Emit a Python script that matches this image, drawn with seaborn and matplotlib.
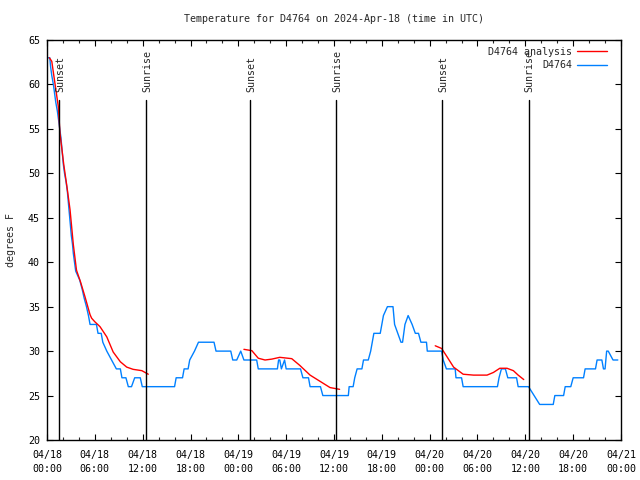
import matplotlib
matplotlib.use("Agg")
import matplotlib.pyplot as plt
import seaborn as sns
import pandas as pd
from matplotlib.lines import Line2D
from matplotlib.ticker import MultipleLocator

# ---------------- data (hours since 04/18 00:00 UTC) ----------------
obs_hours = [0.15, 0.35, 0.45, 0.6, 0.8, 0.95, 1.1, 1.3, 1.45, 1.6, 1.75, 1.85, 1.95, 2.05,
             2.2, 2.4, 2.55, 2.65, 2.75, 2.85, 2.95, 3.05, 3.2, 3.3, 3.45, 3.6, 4.1, 4.4,
             4.65, 4.95, 5.2, 5.4, 6.2, 6.4, 6.8, 7.0, 7.5, 8.1, 8.7, 9.2, 9.4, 9.9,
             10.2, 10.6, 11.0, 11.7, 11.95, 16.0, 16.2, 17.0, 17.2, 17.7, 17.9, 18.5,
             19.0, 20.95, 21.2, 23.05, 23.3, 23.8, 24.3, 24.7, 26.3, 26.5, 28.9, 29.05,
             29.2, 29.4, 29.8, 30.0, 31.8, 32.1, 32.8, 33.0, 34.3, 34.6, 37.8, 37.9,
             38.4, 38.6, 38.9, 39.5, 39.7, 40.3, 40.6, 40.8, 41.0, 41.8, 42.0, 42.2,
             42.7, 43.4, 43.6, 44.0, 44.4, 44.6, 44.9, 45.3, 45.8, 46.2, 46.6, 46.9,
             47.6, 47.7, 49.5, 49.7, 50.1, 51.2, 51.3, 52.0, 52.2, 56.5, 56.7, 57.0,
             57.5, 57.8, 58.9, 59.1, 60.4, 61.8, 63.5, 63.7, 64.8, 65.0, 65.7, 66.0,
             67.3, 67.5, 68.8, 69.0, 69.6, 69.8, 70.0, 70.2, 70.4, 71.0, 71.6]
obs_temp = [63, 63, 62, 61, 60, 59, 58, 57, 56, 55, 54, 53, 52, 51,
            50, 49, 48, 47, 46, 45, 44, 43, 42, 41, 40, 39, 38, 37,
            36, 35, 34, 33, 33, 32, 32, 31, 30, 29, 28, 28, 27, 27,
            26, 26, 27, 27, 26, 26, 27, 27, 28, 28, 29, 30,
            31, 31, 30, 30, 29, 29, 30, 29, 29, 28, 28, 29,
            29, 28, 29, 28, 28, 27, 27, 26, 26, 25, 25, 26,
            26, 27, 28, 28, 29, 29, 30, 31, 32, 32, 33, 34,
            35, 35, 33, 32, 31, 31, 33, 34, 33, 32, 32, 31,
            31, 30, 30, 29, 28, 28, 27, 27, 26, 26, 27, 28,
            28, 27, 27, 26, 26, 24, 24, 25, 25, 26, 26, 27,
            27, 28, 28, 29, 29, 28, 28, 30, 30, 29, 29]

ana_hours = [0.3, 0.6, 1.0, 1.42, 1.63, 2.1, 2.5, 2.89, 3.3, 3.7, 4.2, 4.77, 5.4, 5.6,
             6.0, 6.65, 7.5, 8.3, 9.2, 10.0, 10.8, 11.9, 12.7,
             24.7, 25.7, 26.5, 27.35, 28.2, 29.2, 30.7, 31.7, 33.0, 34.25, 35.5, 36.7,
             48.7, 49.5, 50.15, 51.0, 52.2, 53.5, 55.2, 56.0, 56.8, 57.7, 58.5, 59.1, 59.8]
ana_temp = [63.0, 62.6, 60.1, 57.5, 54.5, 51.0, 48.5, 45.9, 42.0, 39.1, 37.8, 36.1, 34.1, 33.7,
            33.3, 32.75, 31.6, 29.9, 28.8, 28.2, 27.95, 27.8, 27.4,
            30.2, 30.05, 29.2, 29.0, 29.1, 29.3, 29.15, 28.4, 27.3, 26.6, 25.9, 25.7,
            30.6, 30.3, 29.4, 28.2, 27.4, 27.3, 27.3, 27.6, 28.07, 28.07, 27.8, 27.3, 26.8]
ana_seg = [1] * 23 + [2] * 12 + [3] * 13

sun_events = ["Sunset", "Sunrise", "Sunset", "Sunrise", "Sunset", "Sunrise"]
sun_hours = [1.5, 12.4, 25.5, 36.3, 49.6, 60.4]

xtick_hours = [0, 6, 12, 18, 24, 30, 36, 42, 48, 54, 60, 66, 72]
xtick_labels = ["04/18\n00:00", "04/18\n06:00", "04/18\n12:00", "04/18\n18:00",
                "04/19\n00:00", "04/19\n06:00", "04/19\n12:00", "04/19\n18:00",
                "04/20\n00:00", "04/20\n06:00", "04/20\n12:00", "04/20\n18:00",
                "04/21\n00:00"]
ytick_values = [20, 25, 30, 35, 40, 45, 50, 55, 60, 65]

title = "Temperature for D4764 on 2024-Apr-18 (time in UTC)"
ylabel = "degrees F"
label_analysis = "D4764 analysis"
label_obs = "D4764"

# ---------------- plot ----------------
sns.set_style("ticks")
plt.rcParams["font.family"] = ["DejaVu Sans Mono", "DejaVu Sans"]
FS = 7.2
BLUE = "#0080ff"
RED = "#ff0000"

fig = plt.figure(figsize=(6.4, 4.8), dpi=100)
ax = fig.add_axes([47 / 640, 40 / 480, 574 / 640, 400 / 480])

obs_df = pd.DataFrame({"h": obs_hours, "t": obs_temp})
ana_df = pd.DataFrame({"h": ana_hours, "t": ana_temp, "seg": ana_seg})

sns.lineplot(data=obs_df, x="h", y="t", estimator=None, sort=False, color=BLUE,
             lw=1.0, ax=ax, legend=False)
sns.lineplot(data=ana_df, x="h", y="t", units="seg", estimator=None, sort=False,
             color=RED, lw=1.0, ax=ax, legend=False)

ax.set_xlim(0, 72)
ax.set_ylim(20, 65)

line_top = (440 - 100) / 400
for name, h in zip(sun_events, sun_hours):
    ax.axvline(h, ymin=0, ymax=line_top, color="black", lw=1.0)
    ax.text(h + 0.15, (440 - 92) / 400, name, rotation=90, ha="center", va="bottom",
            fontsize=FS, transform=ax.get_xaxis_transform())

ax.set_xticks(xtick_hours)
ax.set_xticklabels(xtick_labels, fontsize=FS, linespacing=1.5)
ax.set_yticks(ytick_values)
ax.set_yticklabels([str(v) for v in ytick_values], fontsize=FS)
ax.xaxis.set_minor_locator(MultipleLocator(2))
ax.tick_params(which="major", direction="in", top=True, right=True, length=4,
               width=0.8, pad=5, colors="black")
ax.tick_params(axis="x", which="major", pad=7)
ax.tick_params(which="minor", direction="in", top=True, right=True, length=2.5,
               width=0.8)
ax.set_xlabel("")
ax.set_ylabel("")
for sp in ax.spines.values():
    sp.set_visible(True)
    sp.set_color("black")
    sp.set_linewidth(1.0)

fig.text(334 / 640, 1 - 19 / 480, title, ha="center", va="center", fontsize=FS)
fig.text(11 / 640, 0.5, ylabel, rotation=90, ha="center", va="center", fontsize=FS)

handles = [Line2D([], [], color=RED, lw=1.0), Line2D([], [], color=BLUE, lw=1.0)]
ax.legend(handles, [label_analysis, label_obs], loc="upper right",
          bbox_to_anchor=(1 - 9 / 574, 1 - 2 / 400), frameon=False, markerfirst=False,
          fontsize=FS, handlelength=3.0, labelspacing=0.35, borderpad=0.0,
          handletextpad=0.5)

fig.savefig("out.png", dpi=100)
